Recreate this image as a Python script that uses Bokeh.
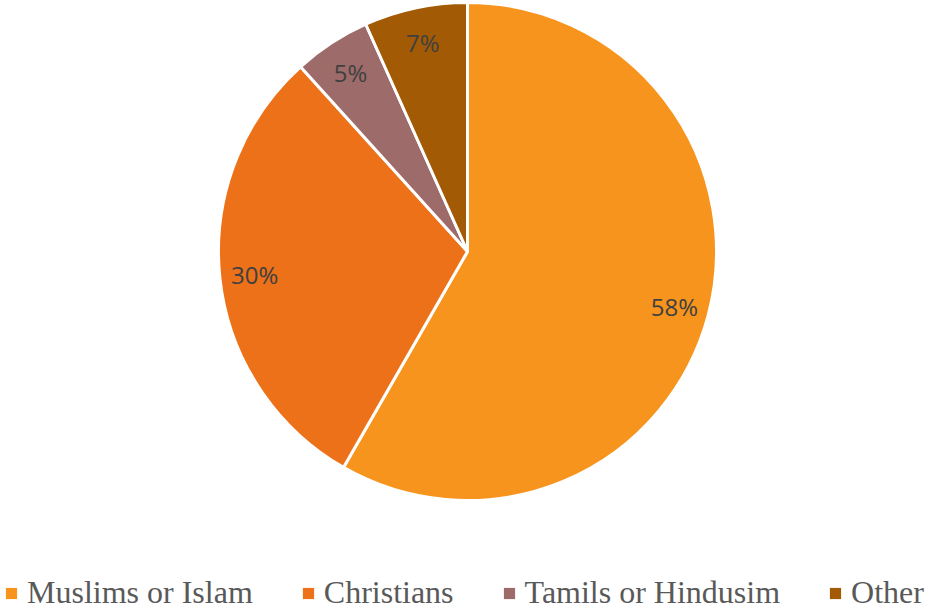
import numpy as np
from bokeh.plotting import figure
from bokeh.models import ColumnDataSource, Legend, LegendItem, Range1d
from bokeh.core.properties import value
from bokeh.embed import file_html
from bokeh.resources import INLINE

categories = ["Muslims or Islam", "Christians", "Tamils or Hindusim", "Other"]
shares = [58.3, 30.0, 5.0, 6.7]
labels = ["58%", "30%", "5%", "7%"]
colors = ["#F7941D", "#EC7118", "#9E6B6B", "#A35A05"]

W, H = 935, 611
cx, cy, R = 467, 360, 249

vals = np.array(shares, dtype=float)
frac = vals / vals.sum()
cum = np.concatenate([[0], np.cumsum(frac)])
start = np.pi / 2 - 2 * np.pi * cum[:-1]
end = np.pi / 2 - 2 * np.pi * cum[1:]
mid = (start + end) / 2
lr = 0.86 * R

src = ColumnDataSource(dict(
    cat=categories, start=start, end=end, color=colors, lab=labels,
    lx=cx + lr * np.cos(mid), ly=cy + lr * np.sin(mid),
))

p = figure(width=W, height=H, output_backend="svg", toolbar_location=None,
           x_axis_type=None, y_axis_type=None, min_border=0,
           x_range=Range1d(0, W), y_range=Range1d(0, H))
p.outline_line_color = None
p.background_fill_color = "white"
p.border_fill_color = "white"

p.wedge(x=cx, y=cy, radius=R, start_angle="start", end_angle="end",
        direction="clock", fill_color="color", line_color="white",
        line_width=3, source=src)

p.text(x="lx", y="ly", text="lab", source=src, text_align="center",
       text_baseline="middle", text_font=value("Open Sans"),
       text_font_size="24px", text_color="#404040")

# legend-only swatches (no visible data)
sw_src = ColumnDataSource(dict(l=[np.nan] * 4, r=[np.nan] * 4, t=[np.nan] * 4,
                               b=[np.nan] * 4, color=colors))
sw = p.quad(left="l", right="r", top="t", bottom="b", fill_color="color",
            line_color=None, source=sw_src)

items = [LegendItem(label=c, renderers=[sw], index=i) for i, c in enumerate(categories)]
legend = Legend(items=items, orientation="horizontal", location=(4, 0),
                label_text_font="Liberation Serif", label_text_font_size="32px",
                label_text_color="#595959", glyph_width=14, glyph_height=14,
                label_standoff=9, spacing=48, padding=0, margin=0,
                border_line_color=None, background_fill_alpha=0)
p.add_layout(legend)

open("out.html", "w").write(file_html(p, INLINE))
